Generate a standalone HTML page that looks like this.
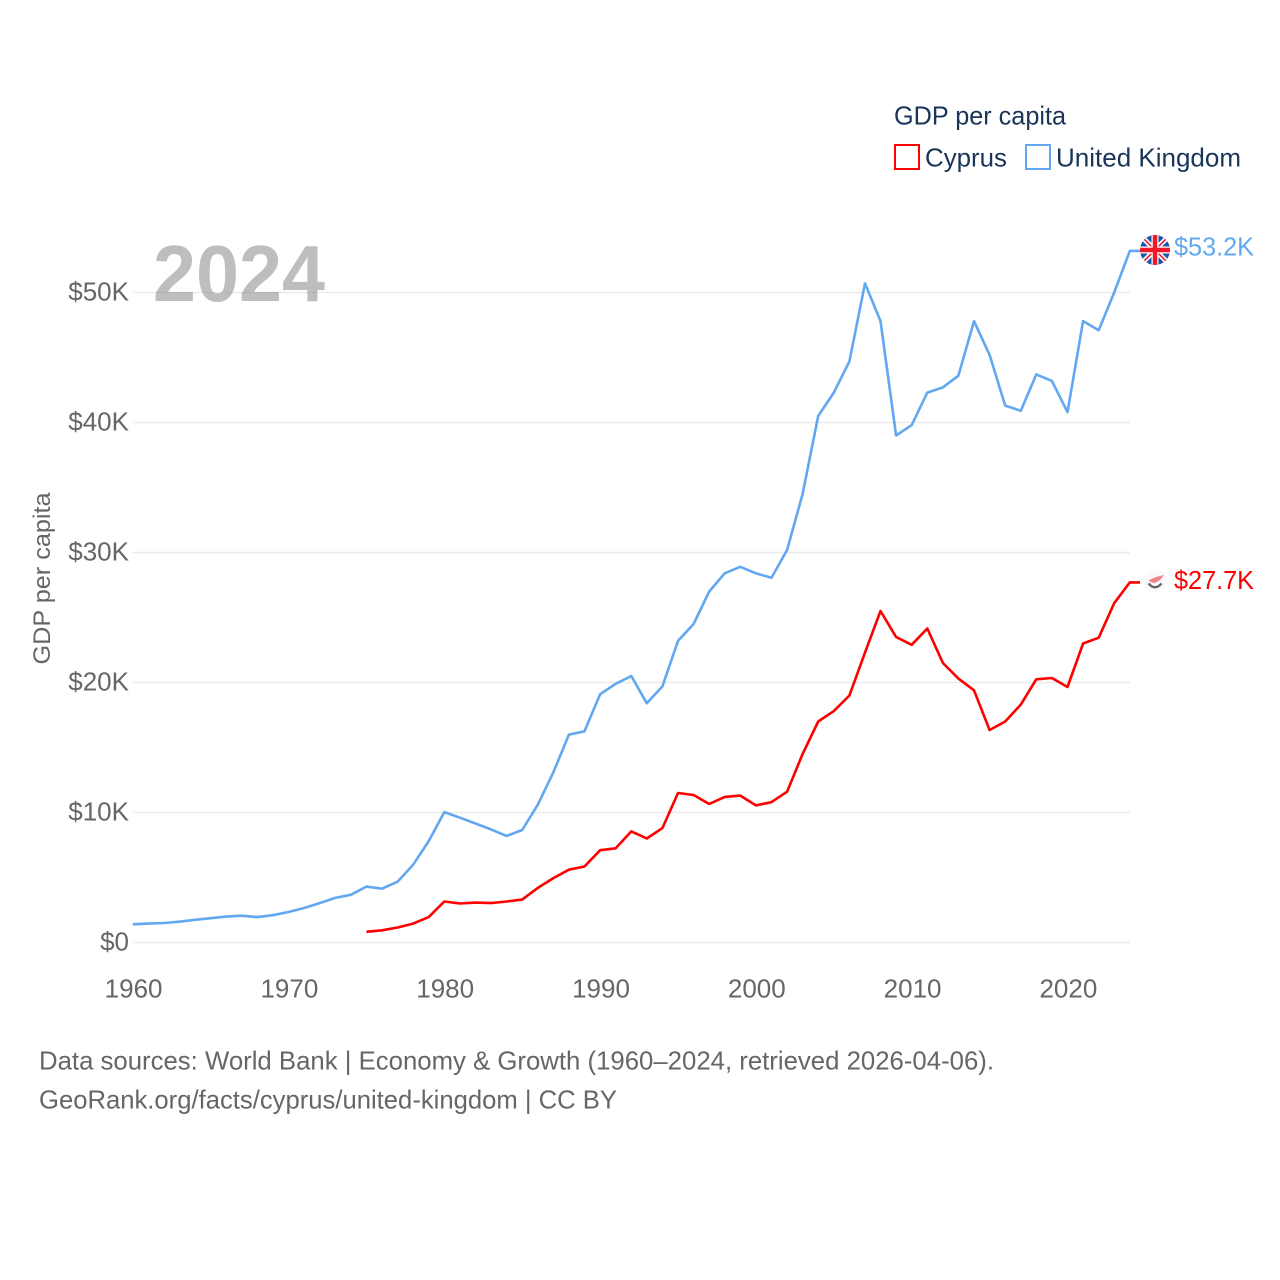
<!DOCTYPE html>
<html lang="en">
<head>
<meta charset="utf-8">
<title>GDP per capita: Cyprus and United Kingdom</title>
<style>
html,body{margin:0;padding:0;background:#fff}
svg{display:block}
text{font-family:"Liberation Sans",sans-serif}
</style>
</head>
<body>
<svg id="chart" xmlns="http://www.w3.org/2000/svg" width="1280" height="1280" viewBox="0 0 1280 1280">
<rect width="1280" height="1280" fill="#fff"/>
<g id="grid"></g>
<g id="yticks"></g>
<g id="xticks"></g>
<text x="153" y="301" font-size="80" font-weight="700" fill="#7c7e82" fill-opacity="0.5" textLength="172" lengthAdjust="spacingAndGlyphs">2024</text>
<text transform="translate(50,578.500) rotate(-90)" text-anchor="middle" font-size="24" fill="#666" textLength="172" lengthAdjust="spacingAndGlyphs">GDP per capita</text>
<g id="series"></g>

<g>
<text x="894" y="124.5" font-size="26" fill="#1a3558" textLength="172" lengthAdjust="spacingAndGlyphs">GDP per capita</text>
<rect x="895" y="145" width="24" height="24" fill="#fff" stroke="#ff0000" stroke-width="2"/>
<text x="925" y="166.5" font-size="26" fill="#1a3558" textLength="82" lengthAdjust="spacingAndGlyphs">Cyprus</text>
<rect x="1026" y="145" width="24" height="24" fill="#fff" stroke="#62a8f0" stroke-width="2"/>
<text x="1056" y="166.5" font-size="26" fill="#1a3558" textLength="185" lengthAdjust="spacingAndGlyphs">United Kingdom</text>
</g>

<defs>
<clipPath id="ukClip"><circle cx="1155" cy="250" r="15"/></clipPath>
</defs>
<g clip-path="url(#ukClip)">
<rect x="1140" y="235" width="30" height="30" fill="#1c56a8"/>
<path d="M1140 235L1170 265M1170 235L1140 265" stroke="#fff" stroke-width="5"/>
<path d="M1140 235L1170 265M1170 235L1140 265" stroke="#e8202e" stroke-width="1.6"/>
<path d="M1155 235V265M1140 250H1170" stroke="#fff" stroke-width="7"/>
<path d="M1155 235V265M1140 250H1170" stroke="#f0182a" stroke-width="4.5"/>
</g>
<g>
<circle cx="1155" cy="581" r="12" fill="#fafafa"/>
<path d="M1149 580L1156 577L1164 575L1160 580L1155 583L1150 582Z" fill="#f0848a"/>
<path d="M1148.500 583.500Q1155 591 1161.500 583.500" fill="none" stroke="#666" stroke-width="2.4"/>
</g>
<text id="end-uk" x="1174" y="255.500" font-size="26" fill="#62a8f0" textLength="80" lengthAdjust="spacingAndGlyphs">$53.2K</text>
<text id="end-cy" x="1174" y="589" font-size="26" fill="#ff0000" textLength="80" lengthAdjust="spacingAndGlyphs">$27.7K</text>

<text x="39" y="1069.500" font-size="26" fill="#666" textLength="955" lengthAdjust="spacingAndGlyphs">Data sources: World Bank | Economy &amp; Growth (1960–2024, retrieved 2026-04-06).</text>
<text x="39" y="1108.500" font-size="26" fill="#666" textLength="578" lengthAdjust="spacingAndGlyphs">GeoRank.org/facts/cyprus/united-kingdom | CC BY</text>
</svg>
<script>
const ukYears = [1960,1961,1962,1963,1964,1965,1966,1967,1968,1969,1970,1971,1972,1973,1974,1975,1976,1977,1978,1979,1980,1981,1982,1983,1984,1985,1986,1987,1988,1989,1990,1991,1992,1993,1994,1995,1996,1997,1998,1999,2000,2001,2002,2003,2004,2005,2006,2007,2008,2009,2010,2011,2012,2013,2014,2015,2016,2017,2018,2019,2020,2021,2022,2023,2024];
const ukValues = [1.4,1.45,1.5,1.6,1.75,1.87,1.99,2.06,1.95,2.1,2.35,2.65,3.03,3.43,3.67,4.3,4.14,4.68,5.98,7.8,10.03,9.6,9.15,8.7,8.2,8.65,10.6,13.1,15.99,16.25,19.1,19.9,20.5,18.4,19.7,23.2,24.5,27.0,28.4,28.9,28.4,28.05,30.2,34.5,40.5,42.3,44.7,50.7,47.8,39.0,39.8,42.3,42.7,43.6,47.8,45.2,41.3,40.9,43.7,43.2,40.8,47.8,47.1,50.0,53.2];
const cyYears = [1975,1976,1977,1978,1979,1980,1981,1982,1983,1984,1985,1986,1987,1988,1989,1990,1991,1992,1993,1994,1995,1996,1997,1998,1999,2000,2001,2002,2003,2004,2005,2006,2007,2008,2009,2010,2011,2012,2013,2014,2015,2016,2017,2018,2019,2020,2021,2022,2023,2024];
const cyValues = [0.82,0.94,1.15,1.45,1.95,3.15,3.0,3.07,3.03,3.15,3.3,4.2,4.95,5.6,5.85,7.1,7.25,8.55,8.0,8.8,11.5,11.35,10.65,11.2,11.3,10.55,10.8,11.6,14.5,17.0,17.8,19.0,22.3,25.5,23.5,22.9,24.15,21.5,20.3,19.4,16.35,17.0,18.3,20.25,20.35,19.65,23.0,23.45,26.1,27.7];
const yTickValues = [0,10,20,30,40,50];
const yTickLabels = ["$0","$10K","$20K","$30K","$40K","$50K"];
const xTickValues = [1960,1970,1980,1990,2000,2010,2020];

const NS = "http://www.w3.org/2000/svg";
function xScale(year){ return 132.7 + (year - 1960) * 15.58; }
function yScale(v){ return 942.5 - v * 13; }
function make(tag, attrs, parent){
  const el = document.createElementNS(NS, tag);
  Object.keys(attrs).forEach(function(k){ el.setAttribute(k, attrs[k]); });
  parent.appendChild(el);
  return el;
}
const gridG = document.getElementById("grid");
const yG = document.getElementById("yticks");
const xG = document.getElementById("xticks");
const seriesG = document.getElementById("series");

yTickValues.forEach(function(v, i){
  const line = make("line", {x1:133, x2:1130, y1:yScale(v), y2:yScale(v), stroke:"#ebebeb", "stroke-width":1.6}, gridG);
  
  
  const t = make("text", {x:129, y:yScale(v)+8, "text-anchor":"end", "font-size":26, fill:"#666"}, yG);
  
  
  t.textContent = yTickLabels[i];
});
xTickValues.forEach(function(y){
  const t = make("text", {x:xScale(y)+0.9, y:997.5, "text-anchor":"middle", "font-size":26, fill:"#666"}, xG);
  
  
  t.textContent = String(y);
});
function pathFor(years, values){
  return years.map(function(y, i){
    return (i ? "L" : "M") + xScale(y).toFixed(1) + " " + yScale(values[i]).toFixed(1);
  }).join("");
}
const ukLast = ukValues[ukValues.length - 1];
const cyLast = cyValues[cyValues.length - 1];
const ukLine = make("path", {d:pathFor(ukYears, ukValues) + "H1140", fill:"none", stroke:"#62a8f0", "stroke-width":2.6, "stroke-linejoin":"round"}, seriesG);


const cyLine = make("path", {d:pathFor(cyYears, cyValues) + "H1140", fill:"none", stroke:"#ff0000", "stroke-width":2.6, "stroke-linejoin":"round"}, seriesG);


document.getElementById("end-uk").textContent = "$" + ukLast.toFixed(1) + "K";
document.getElementById("end-cy").textContent = "$" + cyLast.toFixed(1) + "K";
</script>
</body>
</html>
